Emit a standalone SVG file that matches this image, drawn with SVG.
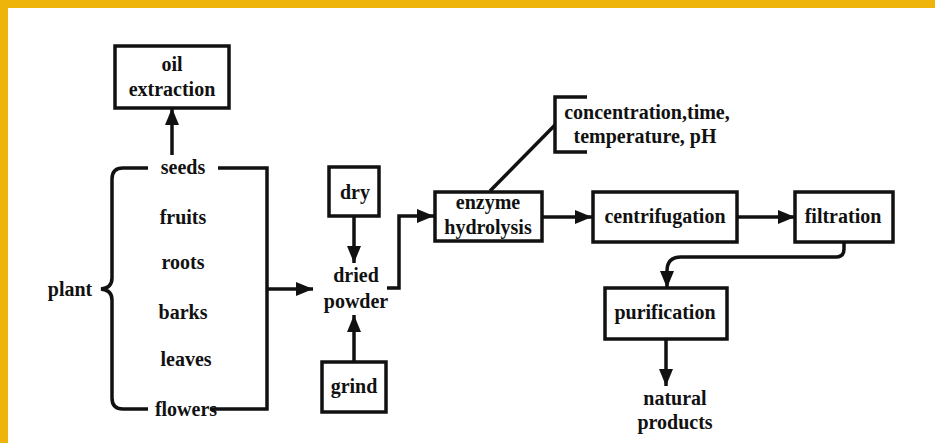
<svg xmlns="http://www.w3.org/2000/svg" width="935" height="443" viewBox="0 0 935 443">
<style>
text{font-family:"Liberation Serif","Times New Roman",serif;font-weight:bold;font-size:20px;fill:#111;text-anchor:middle}
.box{fill:#fff;stroke:#111;stroke-width:3.5}
.ln{fill:none;stroke:#111;stroke-width:3.5}
.ar{fill:none;stroke:#111;stroke-width:3.5;marker-end:url(#ah)}
</style>
<defs>
<marker id="ah" markerUnits="userSpaceOnUse" markerWidth="18" markerHeight="16" viewBox="0 0 18 16" refX="17" refY="8" orient="auto">
<path d="M0,1 L17,8 L0,15 Z" fill="#111"/>
</marker>
</defs>
<rect x="0" y="0" width="935" height="443" fill="#fff"/>
<rect x="0" y="0" width="935" height="8" fill="#EEB40A"/>
<rect x="0" y="0" width="8" height="443" fill="#EEB40A"/>

<g id="connectors">
<path class="ar" d="M172,155 V108"/>
<path class="ln" d="M148,168 H123 Q112,168 112,179 V278 Q112,288 101,289 Q112,290 112,300 V398 Q112,409 123,409 H148"/>
<path class="ln" d="M218,168 H267 V409 H210"/>
<path class="ar" d="M267,289 H313"/>
<path class="ar" d="M354,216 V263"/>
<path class="ar" d="M354,362 V315"/>
<path class="ar" d="M387,288 H399 V216 H434"/>
<path class="ln" d="M490,191 L555,125"/>
<path class="ln" d="M587,97 H555 V152 H587"/>
<path class="ar" d="M542,217 H592"/>
<path class="ar" d="M737,217 H795"/>
<path class="ar" d="M844,242 V249 Q844,257 836,257 H681 Q667,257 667,271 V288"/>
<path class="ar" d="M666,339 V386"/>
</g>

<g id="oil-extraction"><rect class="box" x="115" y="46" width="114" height="62"/><text x="172" y="71">oil</text><text x="172" y="96">extraction</text></g>
<g id="plant"><text x="70" y="296">plant</text></g>
<g id="seeds"><text x="183" y="174">seeds</text></g>
<g id="fruits"><text x="183" y="224">fruits</text></g>
<g id="roots"><text x="183" y="269">roots</text></g>
<g id="barks"><text x="183" y="319">barks</text></g>
<g id="leaves"><text x="186" y="366">leaves</text></g>
<g id="flowers"><text x="186" y="416">flowers</text></g>
<g id="dry"><rect class="box" x="329" y="167" width="50" height="49"/><text x="355" y="199">dry</text></g>
<g id="dried-powder"><text x="356" y="282">dried</text><text x="356" y="308">powder</text></g>
<g id="grind"><rect class="box" x="322" y="362" width="64" height="50"/><text x="354" y="393">grind</text></g>
<g id="enzyme-hydrolysis"><rect class="box" x="435" y="192" width="107" height="49"/><text x="488" y="209">enzyme</text><text x="488" y="234">hydrolysis</text></g>
<g id="conditions"><text x="647" y="119">concentration,time,</text><text x="645" y="143">temperature, pH</text></g>
<g id="centrifugation"><rect class="box" x="593" y="192" width="144" height="50"/><text x="665" y="223">centrifugation</text></g>
<g id="filtration"><rect class="box" x="795" y="192" width="98" height="50"/><text x="843" y="223">filtration</text></g>
<g id="purification"><rect class="box" x="605" y="288" width="122" height="51"/><text x="665" y="319">purification</text></g>
<g id="natural-products"><text x="675" y="405">natural</text><text x="675" y="429">products</text></g>
</svg>
